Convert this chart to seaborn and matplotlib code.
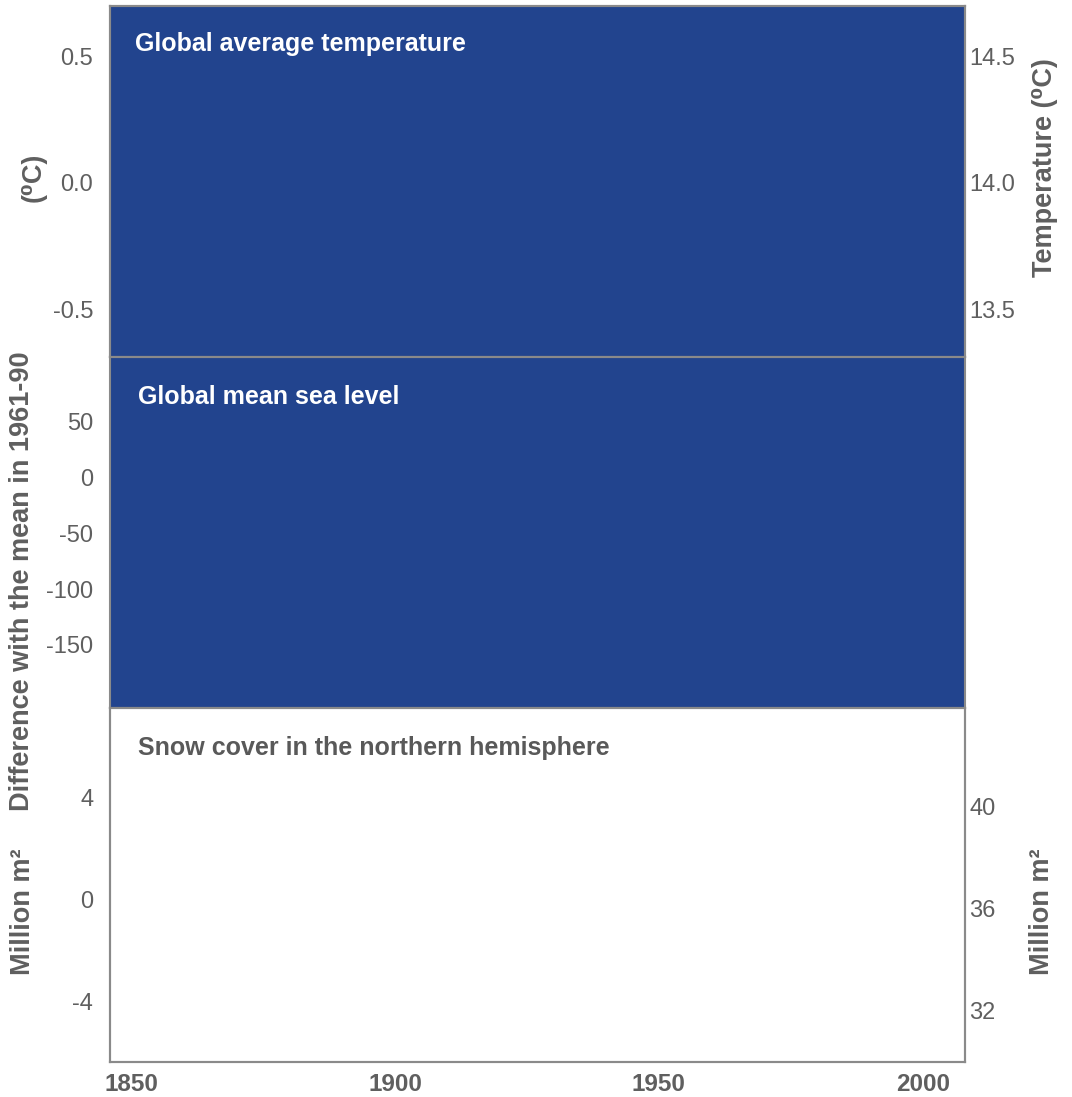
import matplotlib
matplotlib.use("Agg")
import matplotlib.pyplot as plt
import seaborn as sns

# ---- chart content ----
year_ticks = [1850, 1900, 1950, 2000]
year_range = (1846, 2008)

temp_anom_ticks = [-0.5, 0.0, 0.5]
temp_anom_labels = ["-0.5", "0.0", "0.5"]
temp_abs_ticks = [13.5, 14.0, 14.5]
temp_abs_labels = ["13.5", "14.0", "14.5"]
temp_range = (-0.69, 0.70)
temp_offset = 14.0

sea_ticks = [-150, -100, -50, 0, 50]
sea_labels = ["-150", "-100", "-50", "0", "50"]
sea_range = (-206.5, 108)

snow_anom_ticks = [-4, 0, 4]
snow_anom_labels = ["-4", "0", "4"]
snow_abs_ticks = [32, 36, 40]
snow_abs_labels = ["32", "36", "40"]
snow_range = (-6.39, 7.49)
snow_offset = 36.39

panel_titles = ["Global average temperature",
                "Global mean sea level",
                "Snow cover in the northern hemisphere"]
panel_faces = ["#22448E", "#22448E", "#FFFFFF"]
title_colors = ["#FFFFFF", "#FFFFFF", "#595959"]

# ---- style ----
sns.set_theme(style="white")
plt.rcParams["font.family"] = ["Liberation Sans", "DejaVu Sans"]
plt.rcParams["axes.unicode_minus"] = False

GRAY = "#5f5f5f"
SPINE = "#8a8a8a"

W, H = 1072, 1097
fig = plt.figure(figsize=(W / 100, H / 100), dpi=100)
fig.patch.set_facecolor("white")

left = 110 / W
width = (965 - 110) / W
bounds_px = [(6, 357), (357, 708), (708, 1062)]

axes = []
for (top, bot) in bounds_px:
    ax = fig.add_axes([left, 1 - bot / H, width, (bot - top) / H])
    axes.append(ax)

ranges = [temp_range, sea_range, snow_range]
lticks = [temp_anom_ticks, sea_ticks, snow_anom_ticks]
llabels = [temp_anom_labels, sea_labels, snow_anom_labels]

for i, ax in enumerate(axes):
    ax.set_facecolor(panel_faces[i])
    ax.set_xlim(*year_range)
    ax.set_ylim(*ranges[i])
    ax.set_yticks(lticks[i])
    ax.set_yticklabels(llabels[i])
    ax.tick_params(axis="y", length=0, pad=12, labelsize=17, labelcolor=GRAY)
    ax.set_xticks(year_ticks)
    if i < 2:
        ax.tick_params(axis="x", length=0, labelbottom=False)
    else:
        ax.set_xticklabels([str(y) for y in year_ticks])
        ax.tick_params(axis="x", length=0, pad=8, labelsize=17.5, labelcolor=GRAY)
        for t in ax.get_xticklabels():
            t.set_fontweight("bold")
    for s in ax.spines.values():
        s.set_color(SPINE)
        s.set_linewidth(1.5)
        s.set_visible(True)
    ax.grid(False)
    ax.text(0.029 if i == 0 else 0.033, 1 - (38 / 351 if i == 0 else 40 / 351),
            panel_titles[i], transform=ax.transAxes, ha="left", va="center",
            fontsize=18, fontweight="bold", color=title_colors[i])

# right-hand absolute scales
tw0 = axes[0].twinx()
tw0.set_ylim(temp_range[0] + temp_offset, temp_range[1] + temp_offset)
tw0.set_yticks(temp_abs_ticks)
tw0.set_yticklabels(temp_abs_labels)
tw2 = axes[2].twinx()
tw2.set_ylim(snow_range[0] + snow_offset, snow_range[1] + snow_offset)
tw2.set_yticks(snow_abs_ticks)
tw2.set_yticklabels(snow_abs_labels)
for tw in (tw0, tw2):
    tw.tick_params(axis="y", length=0, pad=3, labelsize=17, labelcolor=GRAY)
    tw.grid(False)
    for s in tw.spines.values():
        s.set_color(SPINE)
        s.set_linewidth(1.5)

# axis titles
lab_kw = dict(rotation=90, ha="center", va="center", fontsize=19.5,
              fontweight="bold", color=GRAY)
fig.text(34 / W, 1 - 177 / H, "(⁰C)", **lab_kw)
fig.text(22 / W, 1 - 581 / H, "Difference with the mean in 1961-90", **lab_kw)
fig.text(23 / W, 1 - 912 / H, "Million m²", **lab_kw)
fig.text(1045 / W, 1 - 168 / H, "Temperature (⁰C)", **lab_kw)
fig.text(1042 / W, 1 - 912 / H, "Million m²", **lab_kw)

fig.savefig("out.png", dpi=100)
